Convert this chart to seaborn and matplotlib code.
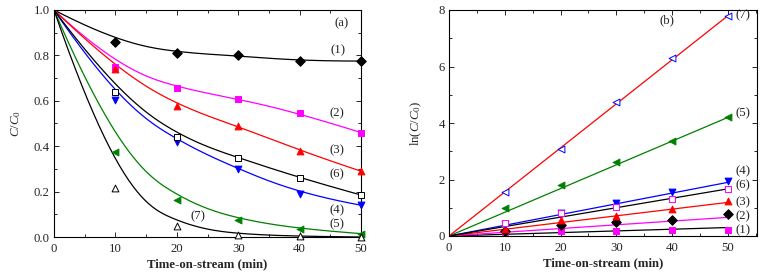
import numpy as np
import pandas as pd
import matplotlib
matplotlib.use("Agg")
import matplotlib.pyplot as plt
import seaborn as sns
from matplotlib.ticker import MultipleLocator

sns.set_theme(style="ticks")
plt.rcParams['font.family'] = ['Liberation Serif', 'DejaVu Serif']
plt.rcParams['mathtext.fontset'] = 'custom'
plt.rcParams['mathtext.rm'] = 'Liberation Serif'
plt.rcParams['mathtext.it'] = 'Liberation Serif:italic'

# ---------------- data ----------------
time = [0, 10, 20, 30, 40, 50]
labels = ["(1)", "(2)", "(3)", "(4)", "(5)", "(6)", "(7)"]

# panel (a): C/C0
a_1 = [1.0, 0.86, 0.81, 0.80, 0.775, 0.775]
a_2 = [1.0, 0.75, 0.655, 0.61, 0.545, 0.46]
a_3 = [1.0, 0.74, 0.575, 0.49, 0.38, 0.29]
a_4 = [1.0, 0.605, 0.42, 0.30, 0.19, 0.14]
a_5 = [1.0, 0.375, 0.165, 0.075, 0.035, 0.015]
a_6 = [1.0, 0.64, 0.44, 0.35, 0.26, 0.185]
a_7 = [1.0, 0.215, 0.05, 0.01, 0.003, 0.0]

# panel (b): ln(C0/C)
b_1 = [0.0, 0.13, 0.19, 0.19, 0.22, 0.21]
b_2 = [0.0, 0.17, 0.40, 0.48, 0.58, 0.78]
b_3 = [0.0, 0.25, 0.56, 0.72, 0.96, 1.24]
b_4 = [0.0, 0.42, 0.80, 1.16, 1.54, 1.93]
b_5 = [0.0, 0.98, 1.80, 2.62, 3.35, 4.20]
b_6 = [0.0, 0.45, 0.82, 1.03, 1.32, 1.68]
b_7 = [0.0, 1.55, 3.08, 4.75, 6.30, 7.80]
fit_end = [0.30, 0.66, 1.19, 1.90, 4.20, 1.67, 7.80]   # fitted line value at t=50
fit_t = [0, 50]

a_series = [a_1, a_2, a_3, a_4, a_5, a_6, a_7]
b_series = [b_1, b_2, b_3, b_4, b_5, b_6, b_7]

# styles
a_line = ['black', 'magenta', 'red', 'blue', 'green', 'black', 'black']
a_mark = ['D', 's', '^', 'v', '<', 's', '^']
a_mcol = ['black', 'magenta', 'red', 'blue', 'green', 'black', 'black']
a_fill = [True, True, True, True, True, False, False]

b_line = ['black', 'magenta', 'red', 'blue', 'green', 'black', 'red']
b_mark = ['s', 'D', '^', 'v', '<', 's', '<']
b_mcol = ['magenta', 'black', 'red', 'blue', 'green', 'magenta', 'blue']
b_fill = [True, True, True, True, True, False, False]

a_lab_pos = [(46.3, 0.824), (46.1, 0.546), (46.1, 0.38), (46.1, 0.119),
             (46.1, 0.057), (46.1, 0.278), (23.5, 0.093)]
b_lab_pos = [(52.7, 0.22), (52.7, 0.71), (52.7, 1.21), (52.7, 2.28),
             (52.7, 4.35), (52.7, 1.78), (52.7, 7.8)]


def bspline(px, py, n=300):
    """Clamped cubic B-spline using the data points as control points."""
    P = np.column_stack([px, py]).astype(float)
    m = len(P)
    k = 3
    inner = list(np.linspace(0, 1, m - k + 1)[1:-1])
    knots = np.array([0.0] * (k + 1) + inner + [1.0] * (k + 1))
    t = np.linspace(0, 1, n)
    t[-1] = 1 - 1e-12

    def N(i, p, tt):
        if p == 0:
            return np.where((knots[i] <= tt) & (tt < knots[i + 1]), 1.0, 0.0)
        out = np.zeros_like(tt)
        d1 = knots[i + p] - knots[i]
        d2 = knots[i + p + 1] - knots[i + 1]
        if d1 > 0:
            out += (tt - knots[i]) / d1 * N(i, p - 1, tt)
        if d2 > 0:
            out += (knots[i + p + 1] - tt) / d2 * N(i + 1, p - 1, tt)
        return out

    B = np.array([N(i, k, t) for i in range(m)])
    C = B.T @ P
    return C[:, 0], C[:, 1]


fig = plt.figure(figsize=(7.61, 2.76), dpi=100)
axA = fig.add_axes([54 / 761, 1 - 237 / 276, 307 / 761, 227 / 276])
axB = fig.add_axes([449 / 761, 1 - 236 / 276, 308 / 761, 226 / 276])

FS = 9.2

# ---- panel (a)
for i, ys in enumerate(a_series):
    cx, cy = bspline(time, ys)
    df = pd.DataFrame({'t': cx, 'c': cy})
    sns.lineplot(data=df, x='t', y='c', ax=axA, color=a_line[i], lw=0.9,
                 sort=False, estimator=None)
    dm = pd.DataFrame({'t': time[1:], 'c': ys[1:]})
    fc = a_mcol[i] if a_fill[i] else 'white'
    sns.scatterplot(data=dm, x='t', y='c', ax=axA, marker=a_mark[i], s=24,
                    color=fc, edgecolor=a_mcol[i], linewidth=0.7, zorder=5,
                    clip_on=False)
    axA.text(*a_lab_pos[i], labels[i], fontsize=FS, ha='center', va='center')

axA.text(46.9, 0.943, "(a)", fontsize=FS, ha='center', va='center')
axA.set_xlim(0, 50)
axA.set_ylim(0, 1.0)
axA.xaxis.set_major_locator(MultipleLocator(10))
axA.xaxis.set_minor_locator(MultipleLocator(5))
axA.yaxis.set_major_locator(MultipleLocator(0.2))
axA.yaxis.set_minor_locator(MultipleLocator(0.1))
axA.yaxis.set_major_formatter(matplotlib.ticker.FormatStrFormatter('%.1f'))
axA.set_xlabel("Time-on-stream (min)", fontsize=FS, fontweight='bold', labelpad=3)
axA.set_ylabel(r"$\it{C/C}_{\rm 0}$", fontsize=FS, labelpad=8)

# ---- panel (b)
for i, ys in enumerate(b_series):
    df = pd.DataFrame({'t': fit_t, 'v': [0.0, fit_end[i]]})
    sns.lineplot(data=df, x='t', y='v', ax=axB, color=b_line[i], lw=0.9)
    dm = pd.DataFrame({'t': time[1:], 'v': ys[1:]})
    fc = b_mcol[i] if b_fill[i] else 'white'
    sns.scatterplot(data=dm, x='t', y='v', ax=axB, marker=b_mark[i], s=24,
                    color=fc, edgecolor=b_mcol[i], linewidth=0.7, zorder=5)
    axB.text(*b_lab_pos[i], labels[i], fontsize=FS, ha='center', va='center')

axB.text(39.1, 7.62, "(b)", fontsize=FS, ha='center', va='center')
axB.set_xlim(0, 55.2)
axB.set_ylim(0, 8)
axB.xaxis.set_major_locator(MultipleLocator(10))
axB.xaxis.set_minor_locator(MultipleLocator(5))
axB.yaxis.set_major_locator(MultipleLocator(2))
axB.yaxis.set_minor_locator(MultipleLocator(1))
axB.set_xlabel("Time-on-stream (min)", fontsize=FS, fontweight='bold', labelpad=3)
axB.set_ylabel(r"ln($\it{C/C}_{\rm 0}$)", fontsize=FS, labelpad=10)

for ax in (axA, axB):
    ax.tick_params(which='both', direction='in', top=True, right=True,
                   labelsize=FS, width=0.7)
    ax.tick_params(axis='x', pad=4)
    ax.tick_params(axis='y', pad=3)
    ax.tick_params(which='major', length=3.5)
    ax.tick_params(which='minor', length=2)
    for s in ax.spines.values():
        s.set_linewidth(0.8)
        s.set_color('black')

fig.savefig("out.png", dpi=100)
